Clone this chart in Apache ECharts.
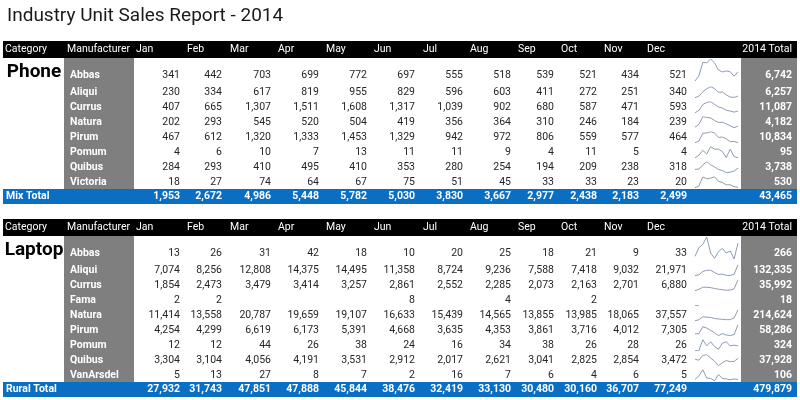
<!DOCTYPE html>
<html><head><meta charset="utf-8">
<script src="https://cdn.jsdelivr.net/npm/echarts@6/dist/echarts.min.js"></script>
<style>html,body{margin:0;padding:0;background:#fff}#c{width:800px;height:400px}</style>
</head><body><div id="c"></div>
<script>
// ---------- DATA ----------
const chartTitle = 'Industry Unit Sales Report - 2014';
const months = ['Jan','Feb','Mar','Apr','May','Jun','Jul','Aug','Sep','Oct','Nov','Dec'];
const headerCategory = 'Category';
const headerManufacturer = 'Manufacturer';
const headerTotal = '2014 Total';

const phoneCategory = 'Phone';
const phoneTotalLabel = 'Mix Total';
const phoneManufacturers = ['Abbas','Aliqui','Currus','Natura','Pirum','Pomum','Quibus','Victoria'];
const phoneAbbas    = [341,442,703,699,772,697,555,518,539,521,434,521];
const phoneAliqui   = [230,334,617,819,955,829,596,603,411,272,251,340];
const phoneCurrus   = [407,665,1307,1511,1608,1317,1039,902,680,587,471,593];
const phoneNatura   = [202,293,545,520,504,419,356,364,310,246,184,239];
const phonePirum    = [467,612,1320,1333,1453,1329,942,972,806,559,577,464];
const phonePomum    = [4,6,10,7,13,11,11,9,4,11,5,4];
const phoneQuibus   = [284,293,410,495,410,353,280,254,194,209,238,318];
const phoneVictoria = [18,27,74,64,67,75,51,45,33,33,23,20];
const phoneRowTotals   = [6742,6257,11087,4182,10834,95,3738,530];
const phoneMonthTotals = [1953,2672,4986,5448,5782,5030,3830,3667,2977,2438,2183,2499];
const phoneGrandTotal  = 43465;

const laptopCategory = 'Laptop';
const laptopTotalLabel = 'Rural Total';
const laptopManufacturers = ['Abbas','Aliqui','Currus','Fama','Natura','Pirum','Pomum','Quibus','VanArsdel'];
const laptopAbbas     = [13,26,31,42,18,10,20,25,18,21,9,33];
const laptopAliqui    = [7074,8256,12808,14375,14495,11358,8724,9236,7588,7418,9032,21971];
const laptopCurrus    = [1854,2473,3479,3414,3257,2861,2552,2285,2073,2163,2701,6880];
const laptopFama      = [2,2,null,null,null,8,null,4,null,2,null,null];
const laptopNatura    = [11414,13558,20787,19659,19107,16633,15439,14565,13855,13985,18065,37557];
const laptopPirum     = [4254,4299,6619,6173,5391,4668,3635,4353,3861,3716,4012,7305];
const laptopPomum     = [12,12,44,26,38,24,16,34,38,26,28,26];
const laptopQuibus    = [3304,3104,4056,4191,3531,2912,2017,2621,3041,2825,2854,3472];
const laptopVanArsdel = [5,13,27,8,7,2,16,7,6,4,6,5];
const laptopRowTotals   = [266,132335,35992,18,214624,58286,324,37928,106];
const laptopMonthTotals = [27932,31743,47851,47888,45844,38476,32419,33130,30480,30160,36707,77249];
const laptopGrandTotal  = 479879;

// ---------- LAYOUT / STYLE ----------
const L = {
  colRight: [180,222,271,319,367,415,463,511,554,597,639,687],
  headLeft: [136,187,230,278,326,374,423,470,518,561,604,647],
  catX: 5, catCenter: 34, manX: 67, nameX: 70, totalRight: 792, bandTextX: 6,
  tableL: 3, tableR: 797, manL: 64, manR: 134, totL: 741,
  sparkL: 695, sparkW: 43, headerH: 17, rowH: 15
};
const C = { black:'#000000', gray:'#7f7f7f', blue:'#0a6fc2', text:'#262626', spark:'#8c9bb4' };
const FF = 'Roboto, "Noto Sans", sans-serif';
const fNum = '10.5px ' + FF, fBold = 'bold 10.5px ' + FF, fHead = '10.5px ' + FF, fCat = 'bold 19px ' + FF;

const sections = [
  { cat: phoneCategory, totalLabel: phoneTotalLabel, names: phoneManufacturers,
    rows: [phoneAbbas,phoneAliqui,phoneCurrus,phoneNatura,phonePirum,phonePomum,phoneQuibus,phoneVictoria],
    rowTotals: phoneRowTotals, monthTotals: phoneMonthTotals, grand: phoneGrandTotal, headerTop: 41 },
  { cat: laptopCategory, totalLabel: laptopTotalLabel, names: laptopManufacturers,
    rows: [laptopAbbas,laptopAliqui,laptopCurrus,laptopFama,laptopNatura,laptopPirum,laptopPomum,laptopQuibus,laptopVanArsdel],
    rowTotals: laptopRowTotals, monthTotals: laptopMonthTotals, grand: laptopGrandTotal, headerTop: 219 }
];

const fmt = v => (v === null || v === undefined) ? '' : v.toLocaleString('en-US');
const rowCenter = (s, i) => i === 0 ? s.headerTop + 34 : s.headerTop + 51.7 + L.rowH * (i - 1);

const cells = [];
const grids = [], xAxes = [], yAxes = [], series = [];
const rect = (x0,y0,x1,y1,fill) => cells.push({t:'rect',x0,y0,x1,y1,fill});
const text = (x,y,s,font,color,align) => cells.push({t:'text',x,y,s,font,color,align});

sections.forEach(s => {
  const hT = s.headerTop, hB = hT + L.headerH;
  const lastC = rowCenter(s, s.rows.length - 1);
  const bandT = lastC + 6.3, bandB = bandT + 15;
  rect(L.tableL, hT, L.tableR, hB, C.black);
  rect(L.manL, hB, L.manR, bandT, C.gray);
  rect(L.totL, hB, L.tableR, bandT, C.gray);
  rect(L.tableL, bandT, L.tableR, bandB, C.blue);
  const hc = hT + L.headerH / 2;
  text(L.catX, hc, headerCategory, fHead, '#fff', 'left');
  text(L.manX, hc, headerManufacturer, fHead, '#fff', 'left');
  months.forEach((m, j) => text(L.headLeft[j], hc, m, fHead, '#fff', 'left'));
  text(L.totalRight, hc, headerTotal, fHead, '#fff', 'right');
  text(L.catCenter, hT + 31, s.cat, fCat, '#000', 'center');
  s.rows.forEach((row, i) => {
    const yc = rowCenter(s, i);
    text(L.nameX, yc, s.names[i], fBold, '#fff', 'left');
    row.forEach((v, j) => text(L.colRight[j], yc, fmt(v), fNum, C.text, 'right'));
    text(L.totalRight, yc, fmt(s.rowTotals[i]), fBold, '#fff', 'right');
    const gi = grids.length;
    const top = i === 0 ? hB + 1 : yc - 6;
    const h = i === 0 ? 22 : 11;
    grids.push({ left: L.sparkL, top: top, width: L.sparkW, height: h, containLabel: false });
    xAxes.push({ type:'category', gridIndex: gi, data: months, show:false, boundaryGap:false });
    yAxes.push({ type:'value', gridIndex: gi, show:false, min:'dataMin', max:'dataMax', scale:true });
    series.push({ type:'line', xAxisIndex: gi, yAxisIndex: gi, data: row, showSymbol:false, silent:true,
      connectNulls:false, lineStyle:{ color:C.spark, width:1 }, z: 5 });
  });
  const bc = bandT + 7.5;
  text(L.bandTextX, bc, s.totalLabel, fBold, '#fff', 'left');
  s.monthTotals.forEach((v, j) => text(L.colRight[j], bc, fmt(v), fBold, '#fff', 'right'));
  text(L.totalRight, bc, fmt(s.grand), fBold, '#fff', 'right');
});

const base = grids.length;
grids.push({ left:0, right:0, top:0, bottom:0, containLabel:false });
xAxes.push({ type:'value', gridIndex: base, min:0, max:800, show:false });
yAxes.push({ type:'value', gridIndex: base, min:0, max:400, inverse:true, show:false });
series.unshift({
  type:'custom', xAxisIndex: base, yAxisIndex: base, silent:true, z: 1, clip:false,
  data: cells.map(c => [c.t === 'rect' ? c.x0 : c.x, c.t === 'rect' ? c.y0 : c.y]),
  renderItem: (params, api) => {
    const c = cells[params.dataIndex];
    if (c.t === 'rect') {
      const p0 = api.coord([c.x0, c.y0]), p1 = api.coord([c.x1, c.y1]);
      return { type:'rect', shape:{ x:p0[0], y:p0[1], width:p1[0]-p0[0], height:p1[1]-p0[1] }, style:{ fill:c.fill } };
    }
    const p = api.coord([c.x, c.y]);
    return { type:'text', x:p[0], y:p[1], style:{ text:c.s, fill:c.color, font:c.font, align:c.align, verticalAlign:'middle' } };
  }
});

const chart = echarts.init(document.getElementById('c'), null, { renderer:'canvas' });
chart.setOption({
  animation:false,
  backgroundColor:'#ffffff',
  title: { text: chartTitle, left: 2, top: 2, textStyle:{ fontFamily: FF, fontSize: 19, fontWeight:'normal', color:'#1a1a1a' } },
  grid: grids, xAxis: xAxes, yAxis: yAxes, series: series
});
</script></body></html>
